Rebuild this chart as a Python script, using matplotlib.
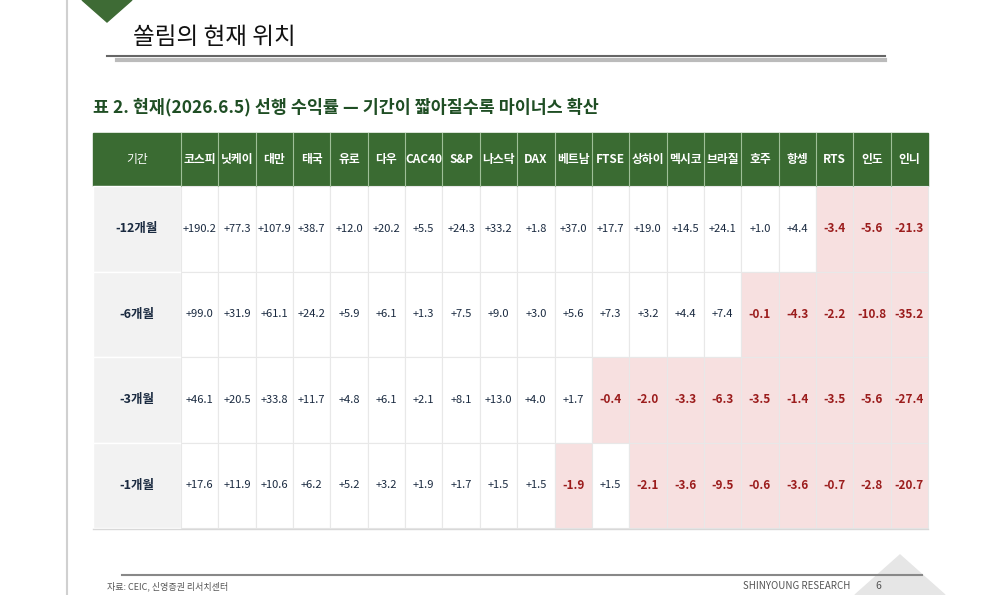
import matplotlib
matplotlib.use("Agg")
import matplotlib.pyplot as plt
from matplotlib.patches import Rectangle, Polygon

plt.rcParams['font.family'] = ['Noto Sans CJK KR', 'DejaVu Sans']

columns = ["코스피", "닛케이", "대만", "태국", "유로", "다우", "CAC40", "S&P", "나스닥", "DAX",
           "베트남", "FTSE", "상하이", "멕시코", "브라질", "호주", "항셍", "RTS", "인도", "인니"]
periods = ["-12개월", "-6개월", "-3개월", "-1개월"]
ret_12m = [190.2, 77.3, 107.9, 38.7, 12.0, 20.2, 5.5, 24.3, 33.2, 1.8, 37.0, 17.7, 19.0, 14.5, 24.1, 1.0, 4.4, -3.4, -5.6, -21.3]
ret_6m = [99.0, 31.9, 61.1, 24.2, 5.9, 6.1, 1.3, 7.5, 9.0, 3.0, 5.6, 7.3, 3.2, 4.4, 7.4, -0.1, -4.3, -2.2, -10.8, -35.2]
ret_3m = [46.1, 20.5, 33.8, 11.7, 4.8, 6.1, 2.1, 8.1, 13.0, 4.0, 1.7, -0.4, -2.0, -3.3, -6.3, -3.5, -1.4, -3.5, -5.6, -27.4]
ret_1m = [17.6, 11.9, 10.6, 6.2, 5.2, 3.2, 1.9, 1.7, 1.5, 1.5, -1.9, 1.5, -2.1, -3.6, -9.5, -0.6, -3.6, -0.7, -2.8, -20.7]
rows = [ret_12m, ret_6m, ret_3m, ret_1m]

fig = plt.figure(figsize=(10, 5.95), dpi=100)
ax = fig.add_axes([0, 0, 1, 1])
ax.set_xlim(0, 1000); ax.set_ylim(595, 0); ax.axis('off')

# page decorations
ax.plot([67, 67], [0, 595], color='#d0d0d0', lw=1.5)
ax.add_patch(Polygon([[82, 0], [132, 0], [107, 22]], color='#3e6b35'))
ax.add_patch(Polygon([[855, 595], [900, 555], [945, 595]], color='#e6e6e6'))
ax.text(133, 38, "쏠림의 현재 위치", fontsize=17, va='center', ha='left', color='#111')
ax.plot([107, 885], [56, 56], color='#666', lw=1.5)
ax.plot([117, 885], [60, 60], color='#bbb', lw=3)
ax.text(93, 107, "표 2. 현재(2026.6.5) 선행 수익률 — 기간이 짧아질수록 마이너스 확산",
        fontsize=12.5, fontweight='bold', color='#1f4e24', va='center', ha='left')

x0, x1, xe = 93, 181, 928
cw = (xe - x1) / len(columns)
hy0, hy1 = 133, 186
rh = (528 - hy1) / len(periods)
green = '#3a6b32'

ax.add_patch(Rectangle((x0, hy0), xe - x0, hy1 - hy0, color=green))
ax.text((x0 + x1) / 2, (hy0 + hy1) / 2, "기간", color='white', fontsize=8.5, ha='center', va='center')
for j, c in enumerate(columns):
    cx = x1 + j * cw
    ax.plot([cx, cx], [hy0, hy1], color='#9fbf98', lw=0.8)
    ax.text(cx + cw / 2, (hy0 + hy1) / 2, c, color='white', fontsize=8.5, fontweight='bold', ha='center', va='center')

for i, (p, vals) in enumerate(zip(periods, rows)):
    y = hy1 + i * rh
    ax.add_patch(Rectangle((x0, y), x1 - x0, rh, facecolor='#f2f2f2', edgecolor='white', lw=1))
    ax.text((x0 + x1) / 2, y + rh / 2, p, fontsize=9, fontweight='bold', color='#1a2a40', ha='center', va='center')
    for j, v in enumerate(vals):
        cx = x1 + j * cw
        neg = v < 0
        ax.add_patch(Rectangle((cx, y), cw, rh, facecolor='#f7e0e0' if neg else 'white',
                               edgecolor='#e8e8e8', lw=0.8))
        ax.text(cx + cw / 2, y + rh / 2, f"{v:+.1f}", fontsize=8 if not neg else 8.5,
                fontweight='bold' if neg else 'normal', color='#9b1c1c' if neg else '#1a2a40',
                ha='center', va='center')
ax.plot([x0, xe], [528.5, 528.5], color='#d8d8d8', lw=1)

ax.plot([122, 922], [575, 575], color='#888', lw=1.5)
ax.text(107, 586, "자료: CEIC, 신영증권 리서치센터", fontsize=6.5, color='#555', va='center')
ax.text(850, 586, "SHINYOUNG RESEARCH", fontsize=7, color='#555', va='center', ha='right')
ax.text(878, 586, "6", fontsize=7.5, color='#555', va='center', ha='center')

fig.savefig("out.png", dpi=100)
